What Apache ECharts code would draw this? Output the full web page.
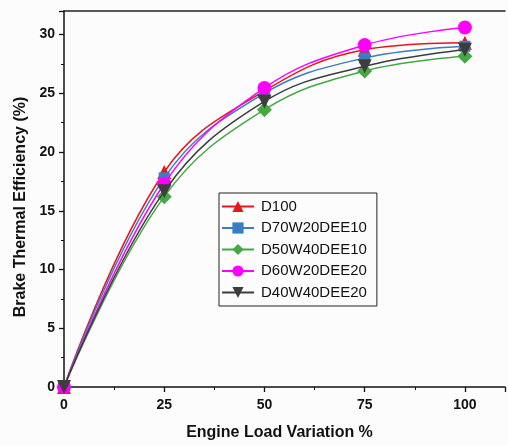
<!DOCTYPE html>
<html>
<head>
<meta charset="utf-8">
<script src="https://cdn.jsdelivr.net/npm/echarts@6/dist/echarts.min.js"></script>
<style>html,body{margin:0;padding:0;background:#fcfcfc}#c{width:508px;height:446px}</style>
</head>
<body>
<div id="c"></div>
<script>
const loads = [0, 25, 50, 75, 100];
const seriesNames = ['D100', 'D70W20DEE10', 'D50W40DEE10', 'D60W20DEE20', 'D40W40DEE20'];
const d100 = [0, 18.3, 25.2, 28.7, 29.3];
const d70w20dee10 = [0, 17.8, 25.0, 28.0, 29.0];
const d50w40dee10 = [0, 16.2, 23.6, 26.9, 28.15];
const d60w20dee20 = [0, 17.3, 25.45, 29.1, 30.6];
const d40w40dee20 = [0, 16.65, 24.3, 27.3, 28.7];
const allValues = [d100, d70w20dee10, d50w40dee10, d60w20dee20, d40w40dee20];

const colors = ['#e8151b', '#3a7dc2', '#45a845', '#ff00ff', '#3d3d3d'];
const symbols = ['triangle', 'rect', 'diamond', 'circle', 'triangle'];
const sizes = [14, 11, 15, 14, 14];
const rotates = [0, 0, 0, 0, 180];

const series = seriesNames.map((n, i) => ({
  name: n,
  type: 'line',
  smooth: 0.4,
  data: loads.map((x, j) => [x, allValues[i][j]]),
  symbol: symbols[i],
  symbolSize: sizes[i],
  symbolRotate: rotates[i],
  lineStyle: { color: colors[i], width: 1.5 },
  itemStyle: { color: colors[i] },
  z: 10 + i
}));

const chart = echarts.init(document.getElementById('c'), null, { renderer: 'canvas' });
chart.setOption({
  backgroundColor: '#fcfcfc',
  animation: false,
  grid: { left: 64, right: 1, top: 11, bottom: 59 },
  legend: {
    orient: 'vertical',
    left: 219,
    top: 193,
    width: 158,
    itemWidth: 32,
    itemHeight: 14,
    itemGap: 6.5,
    padding: [6, 10, 6, 2],
    borderColor: '#222',
    borderWidth: 1,
    backgroundColor: '#fcfcfc',
    textStyle: { fontFamily: 'Liberation Sans, Arial', fontSize: 15, color: '#111', padding: [0, 0, 0, 2] },
    data: seriesNames
  },
  xAxis: [{
    type: 'value',
    min: 0, max: 110, interval: 25,
    name: 'Engine Load Variation %',
    nameLocation: 'middle',
    nameGap: 38,
    nameTextStyle: { fontFamily: 'Liberation Sans, Arial', fontWeight: 'bold', fontSize: 16, color: '#111', padding: [0, 10, 0, 0] },
    axisLine: { show: true, onZero: false, lineStyle: { color: '#111', width: 1.5 } },
    axisTick: { show: true, length: 5, lineStyle: { color: '#111', width: 1.3 } },
    minorTick: { show: true, splitNumber: 2, length: 3, lineStyle: { color: '#111', width: 1 } },
    axisLabel: { fontFamily: 'Liberation Sans, Arial', fontWeight: 'bold', fontSize: 14, color: '#111', margin: 11,
      formatter: v => (v % 25 === 0 && v <= 100) ? String(v) : '' },
    splitLine: { show: false }
  }, {
    type: 'value', position: 'top', min: 0, max: 110,
    axisLine: { show: true, onZero: false, lineStyle: { color: '#222', width: 1.5 } },
    axisTick: { show: false }, axisLabel: { show: false }, splitLine: { show: false }
  }],
  yAxis: {
    type: 'value',
    min: 0, max: 32, interval: 5,
    name: 'Brake Thermal Efficiency (%)',
    nameLocation: 'middle',
    nameGap: 35,
    nameTextStyle: { fontFamily: 'Liberation Sans, Arial', fontWeight: 'bold', fontSize: 16, color: '#111', padding: [0, 16, 0, 0] },
    axisLine: { show: true, lineStyle: { color: '#111', width: 1.5 } },
    axisTick: { show: true, length: 5, lineStyle: { color: '#111', width: 1.3 } },
    minorTick: { show: true, splitNumber: 2, length: 3, lineStyle: { color: '#111', width: 1 } },
    axisLabel: { fontFamily: 'Liberation Sans, Arial', fontWeight: 'bold', fontSize: 14, color: '#111', margin: 9,
      formatter: v => (v % 5 === 0 && v <= 30) ? String(v) : '' },
    splitLine: { show: false }
  },
  series: series
});
</script>
</body>
</html>
